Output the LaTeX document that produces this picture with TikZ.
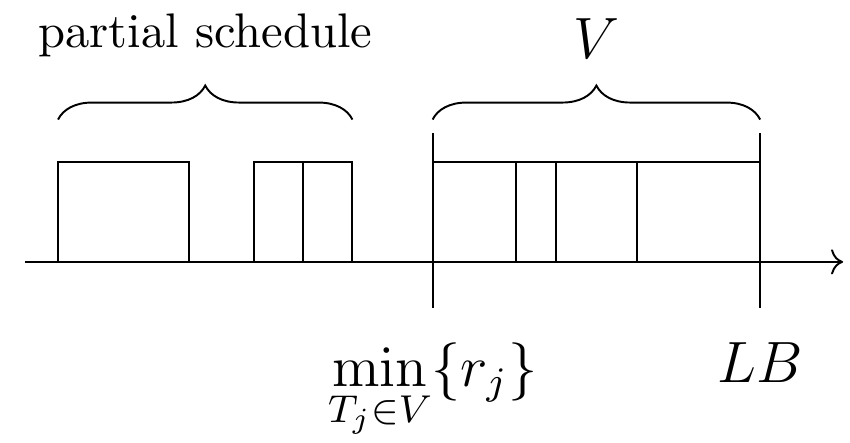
\documentclass[tikz,border=0pt]{standalone}
\usepackage{amsmath}
\usetikzlibrary{arrows.meta,positioning,decorations.pathreplacing}
\begin{document}
\begin{tikzpicture}[
  brc/.style={decorate,decoration={brace,amplitude=7pt}},
  lbl/.style={font=\large,inner sep=3pt}]
\useasboundingbox (0,0) rectangle (6.15,3.205);
% time axis
\draw[->] (0.18,1.31) -- (6.10,1.31);
% partial schedule
\draw (0.42,1.31) rectangle (1.37,2.03);
\draw (1.84,1.31) rectangle (2.19,2.03);
\draw (2.19,1.31) rectangle (2.55,2.03);
% jobs of V
\draw (3.13,1.31) rectangle (3.73,2.03);
\draw (3.73,1.31) rectangle (4.02,2.03);
\draw (4.02,1.31) rectangle (4.61,2.03);
\draw (4.61,1.31) rectangle (5.50,2.03);
\coordinate (rmin) at (3.13,0.98);
\coordinate (lbd) at (5.50,0.98);
\draw (3.13,2.24) -- (rmin);
\draw (5.50,2.24) -- (lbd);
\node[lbl,below=0.14cm of rmin] (rminlbl) {$\displaystyle\min_{T_j\in V}\{r_j\}$};
\node[lbl,below=0.14cm of lbd] (lblbl) {$LB$};
% braces
\draw[brc] (0.42,2.34) -- node[above=0.33cm] (pslbl) {partial schedule} (2.55,2.34);
\draw[brc] (3.13,2.34) -- node[lbl,above=0.33cm] (vlbl) {$V$} (5.50,2.34);
\end{tikzpicture}
\end{document}
